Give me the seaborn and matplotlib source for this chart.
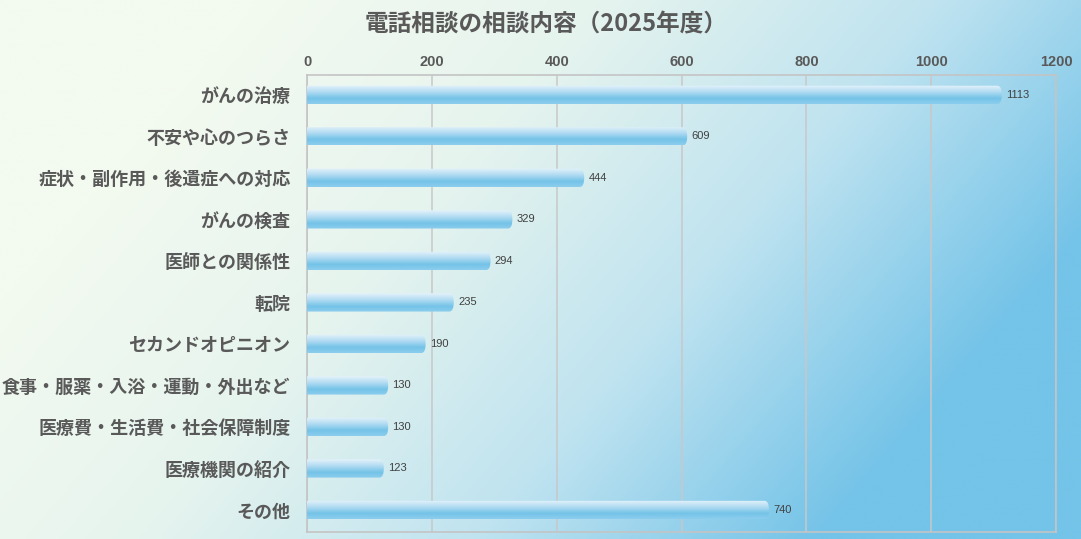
import numpy as np
import pandas as pd
import matplotlib
matplotlib.use('Agg')
import matplotlib.pyplot as plt
import seaborn as sns
from matplotlib.colors import LinearSegmentedColormap
from matplotlib.patches import FancyBboxPatch

categories = ['がんの治療', '不安や心のつらさ', '症状・副作用・後遺症への対応', 'がんの検査',
              '医師との関係性', '転院', 'セカンドオピニオン', '食事・服薬・入浴・運動・外出など',
              '医療費・生活費・社会保障制度', '医療機関の紹介', 'その他']
counts = [1113, 609, 444, 329, 294, 235, 190, 130, 130, 123, 740]
x_ticks = [0, 200, 400, 600, 800, 1000, 1200]
title = '電話相談の相談内容（2025年度）'

df = pd.DataFrame({'category': categories, 'count': counts})

sns.set_style('white')
plt.rcParams['font.family'] = ['Noto Sans CJK JP', 'DejaVu Sans']

fig = plt.figure(figsize=(10.81, 5.39), dpi=100)

# background gradient over the whole figure
bg = fig.add_axes([0, 0, 1, 1], zorder=-10)
gx, gy = np.meshgrid(np.linspace(0, 1, 400), np.linspace(0, 1, 200))
t = np.clip(gx * 1.05 + gy * 0.45 - 0.25, 0, 1)
bg_cmap = LinearSegmentedColormap.from_list('bg', ['#f3faf0', '#e6f4ee', '#bfe3f0', '#74c3e8'])
bg.imshow(t, cmap=bg_cmap, aspect='auto', extent=[0, 1, 0, 1], origin='upper', vmin=0, vmax=1)
bg.axis('off')

ax = fig.add_axes([0.284, 0.013, 0.693, 0.848])
ax.patch.set_alpha(0)
sns.barplot(data=df, x='count', y='category', ax=ax, color='#7cc6ea', width=0.44, orient='h')

bar_cmap = LinearSegmentedColormap.from_list('bar', [(0, '#e4f3fb'), (0.35, '#b2dcf3'),
                                                     (0.7, '#74c3e8'), (1, '#8ccdee')])
grad = np.linspace(0, 1, 64).reshape(-1, 1)
for p, v in zip(ax.patches, counts):
    x0, y0, w, h = p.get_x(), p.get_y(), p.get_width(), p.get_height()
    p.set_visible(False)
    # rounded only on the right: left rounding sits beyond the axis
    r = FancyBboxPatch((x0 - 20, y0), w + 20, h, boxstyle='round,pad=0,rounding_size=7',
                       mutation_aspect=0.44 / 14, facecolor='none', edgecolor='none',
                       transform=ax.transData)
    ax.add_patch(r)
    im = ax.imshow(grad, cmap=bar_cmap, aspect='auto', extent=[x0, x0 + w, y0 + h, y0],
                   zorder=3, interpolation='bilinear')
    im.set_clip_path(r)
    ax.text(v + 7, y0 + h / 2, str(v), va='center', ha='left', fontsize=8,
            color='#404040', family=['Liberation Sans', 'DejaVu Sans'], zorder=4)

ax.set_xlim(0, 1200)
ax.set_ylim(10.53, -0.48)
ax.set_xticks(x_ticks)
ax.xaxis.tick_top()
ax.tick_params(axis='x', length=0, pad=4, labelsize=10.5, labelcolor='#595959')
ax.tick_params(axis='y', length=0, pad=12, labelsize=13, labelcolor='#595959')
for lab in ax.get_xticklabels():
    lab.set_fontweight('bold')
    lab.set_family(['Liberation Sans', 'DejaVu Sans'])
for lab in ax.get_yticklabels():
    lab.set_fontweight('bold')
ax.set_xlabel('')
ax.set_ylabel('')
ax.grid(axis='x', color='#c8c8c8', linewidth=1.1, zorder=0)
ax.set_axisbelow(True)
for s in ax.spines.values():
    s.set_visible(True)
    s.set_color('#c4c4c4')
    s.set_linewidth(1.2)

fig.text(0.505, 0.954, title, ha='center', va='center', fontsize=17,
         fontweight='bold', color='#595959')

fig.savefig('out.png', dpi=100)
